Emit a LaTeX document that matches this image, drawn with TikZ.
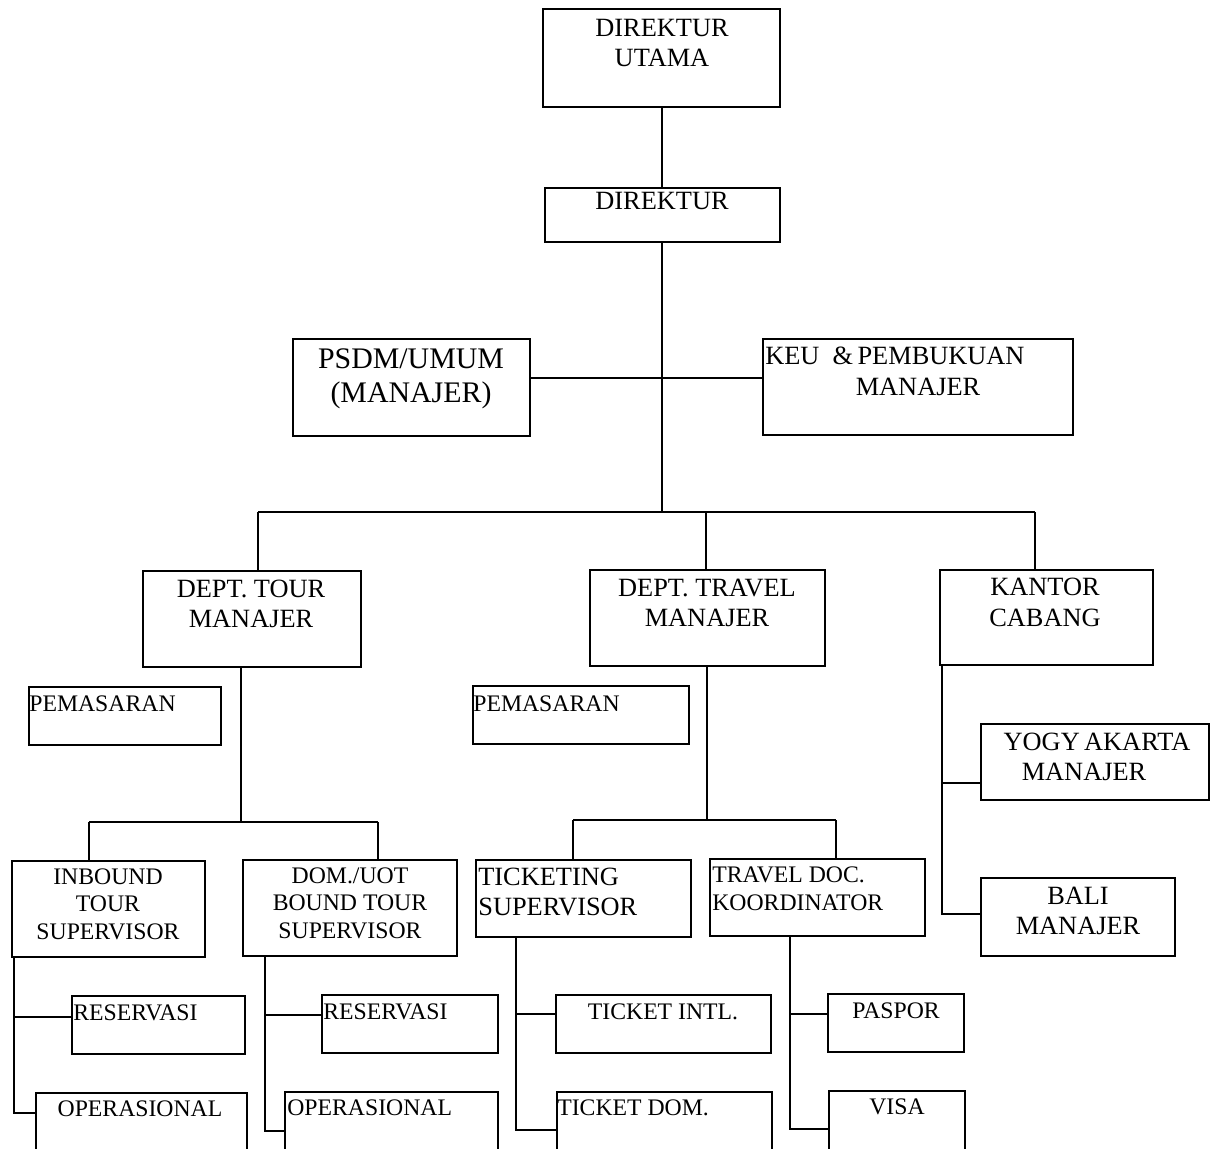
\documentclass[tikz,border=0pt]{standalone}
\usepackage{fontspec}
\setmainfont{Liberation Serif}
\usetikzlibrary{fit}
\tikzset{
  box/.style={draw, line width=1pt, inner sep=0pt},
  conn/.style={line width=1pt},
  lbl/.style={inner sep=0pt, font=\fontsize{15}{18}\selectfont},
  sml/.style={inner sep=0pt, font=\fontsize{13.5}{16}\selectfont},
  big/.style={inner sep=0pt, font=\fontsize{17}{20}\selectfont},
}
\newcommand\bx[5]{\node[box, fit={(#2,#3) (#4,#5)}] (#1) {};}
\begin{document}
\begin{tikzpicture}[x=0.02cm, y=-0.02cm]
\clip (0,0) rectangle (1211,1149);
\fill[white] (0,0) rectangle (1211,1149);
% boxes
\bx{du}{543}{9}{780}{107}
\bx{d}{545}{188}{780}{242}
\bx{psdm}{293}{339}{530}{436}
\bx{keu}{763}{339}{1073}{435}
\bx{tour}{143}{571}{361}{667}
\bx{travel}{590}{570}{825}{666}
\bx{kantor}{940}{570}{1153}{665}
\bx{pem1}{29}{687}{221}{745}
\bx{pem2}{473}{686}{689}{744}
\bx{inb}{12}{861}{205}{957}
\bx{dom}{243}{860}{457}{956}
\bx{res1}{72}{996}{245}{1054}
\bx{op1}{36}{1093}{247}{1170}
\bx{res2}{322}{995}{498}{1053}
\bx{op2}{285}{1092}{498}{1170}
\bx{tick}{476}{860}{691}{937}
\bx{tdoc}{710}{859}{925}{936}
\bx{tin}{556}{995}{771}{1053}
\bx{tdom}{557}{1092}{772}{1170}
\bx{pas}{828}{994}{964}{1052}
\bx{visa}{829}{1091}{965}{1170}
\bx{yog}{981}{724}{1209}{800}
\bx{bali}{981}{878}{1175}{956}
% texts
\node[lbl, anchor=base] (du1) at (662,37) {DIREKTUR};
\node[lbl, anchor=base] (du2) at (662,67) {UTAMA};
\node[lbl, anchor=base] (d1) at (662,210) {DIREKTUR};
\node[big, anchor=base] (ps1) at (411,368) {PSDM/UMUM};
\node[big, anchor=base] (ps2) at (411,402) {(MANAJER)};
\node[lbl, anchor=base west] (ke1) at (765,364) {KEU\ \ \&\,PEMBUKUAN};
\node[lbl, anchor=base] (ke2) at (918,395) {MANAJER};
\node[lbl, anchor=base] (to1) at (251,597) {DEPT. TOUR};
\node[lbl, anchor=base] (to2) at (251,627) {MANAJER};
\node[lbl, anchor=base] (tr1) at (707,596) {DEPT. TRAVEL};
\node[lbl, anchor=base] (tr2) at (707,626) {MANAJER};
\node[lbl, anchor=base] (ka1) at (1045,595) {KANTOR};
\node[lbl, anchor=base] (ka2) at (1045,626) {CABANG};
\node[sml, anchor=base west] (pm1) at (29,711) {PEMASARAN};
\node[sml, anchor=base west] (pm2) at (473,711) {PEMASARAN};
\node[sml, anchor=base] (in1) at (108,884) {INBOUND};
\node[sml, anchor=base] (in2) at (108,911) {TOUR};
\node[sml, anchor=base] (in3) at (108,939) {SUPERVISOR};
\node[sml, anchor=base] (do1) at (350,883) {DOM./UOT};
\node[sml, anchor=base] (do2) at (350,910) {BOUND TOUR};
\node[sml, anchor=base] (do3) at (350,938) {SUPERVISOR};
\node[sml, anchor=base west] (rs1) at (73,1020) {RESERVASI};
\node[sml, anchor=base west] (rs2) at (323,1019) {RESERVASI};
\node[sml, anchor=base] (os1) at (140,1116) {OPERASIONAL};
\node[sml, anchor=base west] (os2) at (287,1115) {OPERASIONAL};
\node[lbl, anchor=base west] (tk1) at (478,885) {TICKETING};
\node[lbl, anchor=base west] (tk2) at (478,915) {SUPERVISOR};
\node[sml, anchor=base west] (td1) at (712,882) {TRAVEL DOC.};
\node[sml, anchor=base west] (td2) at (712,910) {KOORDINATOR};
\node[sml, anchor=base] (ti1) at (663,1019) {TICKET INTL.};
\node[sml, anchor=base west] (tm1) at (557,1115) {TICKET DOM.};
\node[sml, anchor=base] (pa1) at (896,1018) {PASPOR};
\node[sml, anchor=base] (vi1) at (897,1114) {VISA};
\node[lbl, anchor=base] (yo1) at (1097,750) {YOGY\,AKARTA};
\node[lbl, anchor=base] (yo2) at (1084,780) {MANAJER};
\node[lbl, anchor=base] (ba1) at (1078,904) {BALI};
\node[lbl, anchor=base] (ba2) at (1078,934) {MANAJER};
% connectors: top
\coordinate (mx) at (662,0);
\draw[conn] (mx |- du.south) -- (mx |- d.north);
\coordinate (h1) at (662,378);
\draw[conn] (psdm.east |- h1) -- (keu.west |- h1);
\coordinate (b1) at (258,512);
\coordinate (b2) at (706,512);
\coordinate (b3) at (1035,512);
\draw[conn] (mx |- d.south) -- (mx |- b1);
\draw[conn] (b1) -- (b3);
\draw[conn] (b1) -- (b1 |- tour.north);
\draw[conn] (b2) -- (b2 |- travel.north);
\draw[conn] (b3) -- (b3 |- kantor.north);
% tour branch
\coordinate (tv) at (241,822);
\coordinate (t1) at (89,822);
\coordinate (t2) at (378,822);
\draw[conn] (tv |- tour.south) -- (tv);
\draw[conn] (t1) -- (t2);
\draw[conn] (t1) -- (t1 |- inb.north);
\draw[conn] (t2) -- (t2 |- dom.north);
% travel branch
\coordinate (rv) at (707,820);
\coordinate (r1) at (573,820);
\coordinate (r2) at (836,820);
\draw[conn] (rv |- travel.south) -- (rv);
\draw[conn] (r1) -- (r2);
\draw[conn] (r1) -- (r1 |- tick.north);
\draw[conn] (r2) -- (r2 |- tdoc.north);
% inbound
\coordinate (iv) at (14,1113);
\draw[conn] (iv |- inb.south) -- (iv) -- (op1.west |- iv);
\coordinate (ir) at (14,1017);
\draw[conn] (ir) -- (res1.west |- ir);
% dom
\coordinate (dv) at (265,1131);
\draw[conn] (dv |- dom.south) -- (dv) -- (op2.west |- dv);
\coordinate (dr) at (265,1015);
\draw[conn] (dr) -- (res2.west |- dr);
% ticketing
\coordinate (kv) at (516,1130);
\draw[conn] (kv |- tick.south) -- (kv) -- (tdom.west |- kv);
\coordinate (kr) at (516,1014);
\draw[conn] (kr) -- (tin.west |- kr);
% travel doc
\coordinate (cv) at (790,1129);
\draw[conn] (cv |- tdoc.south) -- (cv) -- (visa.west |- cv);
\coordinate (cr) at (790,1014);
\draw[conn] (cr) -- (pas.west |- cr);
% kantor
\coordinate (nv) at (942,914);
\draw[conn] (nv |- kantor.south) -- (nv) -- (bali.west |- nv);
\coordinate (nr) at (942,783);
\draw[conn] (nr) -- (yog.west |- nr);
\end{tikzpicture}
\end{document}
